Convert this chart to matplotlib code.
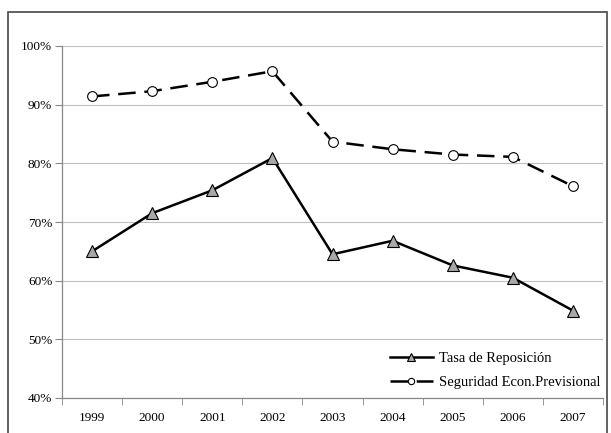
import matplotlib.pyplot as plt
from matplotlib.patches import Rectangle

years = ["1999", "2000", "2001", "2002", "2003", "2004", "2005", "2006", "2007"]
tasa_reposicion = [65.0, 71.5, 75.4, 80.9, 64.5, 66.8, 62.6, 60.5, 54.9]
seguridad_econ = [91.4, 92.3, 93.9, 95.7, 83.7, 82.4, 81.5, 81.1, 76.1]

plt.rcParams['font.family'] = ['Liberation Serif', 'DejaVu Serif']

fig = plt.figure(figsize=(6.11, 4.33), dpi=100)
# outer frame around the chart (bottom edge is cut off in the original)
fig.patches.append(Rectangle((8 / 611, -0.05), 599 / 611, 1.05 - 12 / 433,
                             transform=fig.transFigure, fill=False,
                             edgecolor="#555555", linewidth=1.3))

ax = fig.add_axes([62 / 611, 35 / 433, 541 / 611, 352 / 433])
x = list(range(len(years)))

ax.plot(x, tasa_reposicion, color="black", linewidth=1.8, marker="^",
        markersize=8, markerfacecolor="#a8a8a8", markeredgecolor="black",
        markeredgewidth=0.8, label="Tasa de Reposición")
ax.plot(x, seguridad_econ, color="black", linewidth=1.8, dashes=(7, 3.5),
        marker="o", markersize=7, markerfacecolor="white",
        markeredgecolor="black", markeredgewidth=0.8,
        label="Seguridad Econ.Previsional")

ax.set_xlim(-0.5, len(years) - 0.5)
ax.set_ylim(40, 100)
ax.set_yticks(range(40, 101, 10))
ax.set_yticklabels([f"{v}%" for v in range(40, 101, 10)], fontsize=9.5)
ax.set_xticks(x)
ax.set_xticklabels(years, fontsize=9.5)
ax.set_xticks([i + 0.5 for i in range(-1, len(years))], minor=True)
ax.tick_params(axis="x", which="major", length=0, pad=10)
ax.tick_params(axis="x", which="minor", length=5, color="#888888", direction="out")
ax.tick_params(axis="y", length=5, color="#888888", pad=2)

ax.grid(axis="y", color="#c0c0c0", linewidth=0.8)
ax.set_axisbelow(True)
for s in ["top", "right"]:
    ax.spines[s].set_visible(False)
for s in ["left", "bottom"]:
    ax.spines[s].set_color("#888888")
    ax.spines[s].set_linewidth(0.9)

ax.legend(loc="lower right", bbox_to_anchor=(1.02, -0.012), frameon=False,
          fontsize=10.5, handlelength=3.0, handletextpad=0.4, labelspacing=0.75,
          markerscale=0.65)

fig.savefig("out.png", dpi=100)
